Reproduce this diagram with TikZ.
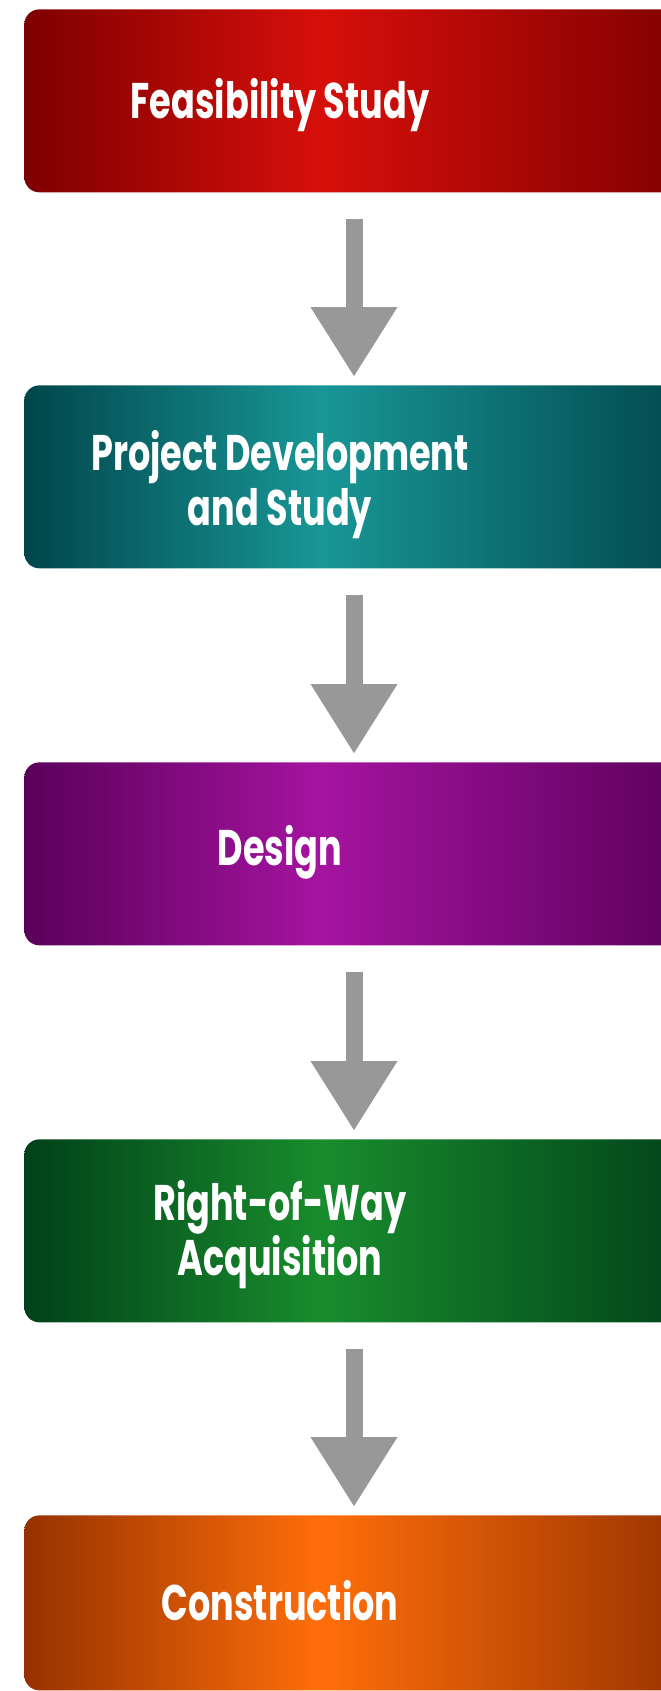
\documentclass[tikz,border=0pt]{standalone}
\usepackage{fontspec}
\newfontfamily\boxfont[FakeStretch=0.7]{Poppins}
\usetikzlibrary{arrows.meta}
\definecolor{redE}{RGB}{125,0,0}
\definecolor{redC}{RGB}{215,15,10}
\definecolor{tealE}{RGB}{0,70,75}
\definecolor{tealC}{RGB}{25,150,150}
\definecolor{purE}{RGB}{90,0,90}
\definecolor{purC}{RGB}{165,20,160}
\definecolor{grnE}{RGB}{0,65,25}
\definecolor{grnC}{RGB}{25,140,45}
\definecolor{orgE}{RGB}{150,50,0}
\definecolor{orgC}{RGB}{255,110,10}
\definecolor{arrgray}{RGB}{152,152,152}
\pgfdeclarehorizontalshading{shRed}{100bp}{color(0bp)=(redE); color(25bp)=(redE); color(47bp)=(redC); color(75bp)=(redE); color(100bp)=(redE)}
\pgfdeclarehorizontalshading{shTeal}{100bp}{color(0bp)=(tealE); color(25bp)=(tealE); color(47bp)=(tealC); color(75bp)=(tealE); color(100bp)=(tealE)}
\pgfdeclarehorizontalshading{shPur}{100bp}{color(0bp)=(purE); color(25bp)=(purE); color(47bp)=(purC); color(75bp)=(purE); color(100bp)=(purE)}
\pgfdeclarehorizontalshading{shGrn}{100bp}{color(0bp)=(grnE); color(25bp)=(grnE); color(47bp)=(grnC); color(75bp)=(grnE); color(100bp)=(grnE)}
\pgfdeclarehorizontalshading{shOrg}{100bp}{color(0bp)=(orgE); color(25bp)=(orgE); color(47bp)=(orgC); color(75bp)=(orgE); color(100bp)=(orgE)}
\begin{document}
\begin{tikzpicture}[x=0.02cm,y=-0.02cm,
  box/.style={draw=none, shade, rounded corners=0.3cm, minimum width=13.52cm, minimum height=3.66cm, inner sep=0pt, anchor=north west},
  txt/.style={text=white, font=\boxfont\bfseries\fontsize{28.5}{31}\selectfont, inner sep=0pt, anchor=base},
  arr/.style={draw=arrgray, line width=0.34cm, -{Triangle[width=1.64cm,length=1.4cm]}, shorten <=0.52cm, shorten >=0.16cm}]
\useasboundingbox (0,0) rectangle (661,1691);
\clip (0,0) rectangle (661,1691);
\node[box, shading=shRed] (b1) at (24,9) {};
\node[box, shading=shTeal] (b2) at (24,385) {};
\node[box, shading=shPur] (b3) at (24,762) {};
\node[box, shading=shGrn] (b4) at (24,1139) {};
\node[box, shading=shOrg, minimum height=3.5cm] (b5) at (24,1515) {};
\node[txt] (t1) at (280,118) {Feasibility Study};
\node[txt] (t2a) at (280,470) {Project Development};
\node[txt] (t2b) at (280,525) {and Study};
\node[txt] (t3) at (280,865) {Design};
\node[txt] (t4a) at (280,1220) {Right-of-Way};
\node[txt] (t4b) at (280,1275) {Acquisition};
\node[txt] (t5) at (280,1620) {Construction};
\coordinate (ax) at (354,0);
\draw[arr] (b1.south -| ax) -- (b2.north -| ax);
\draw[arr] (b2.south -| ax) -- (b3.north -| ax);
\draw[arr] (b3.south -| ax) -- (b4.north -| ax);
\draw[arr] (b4.south -| ax) -- (b5.north -| ax);
\end{tikzpicture}
\end{document}
